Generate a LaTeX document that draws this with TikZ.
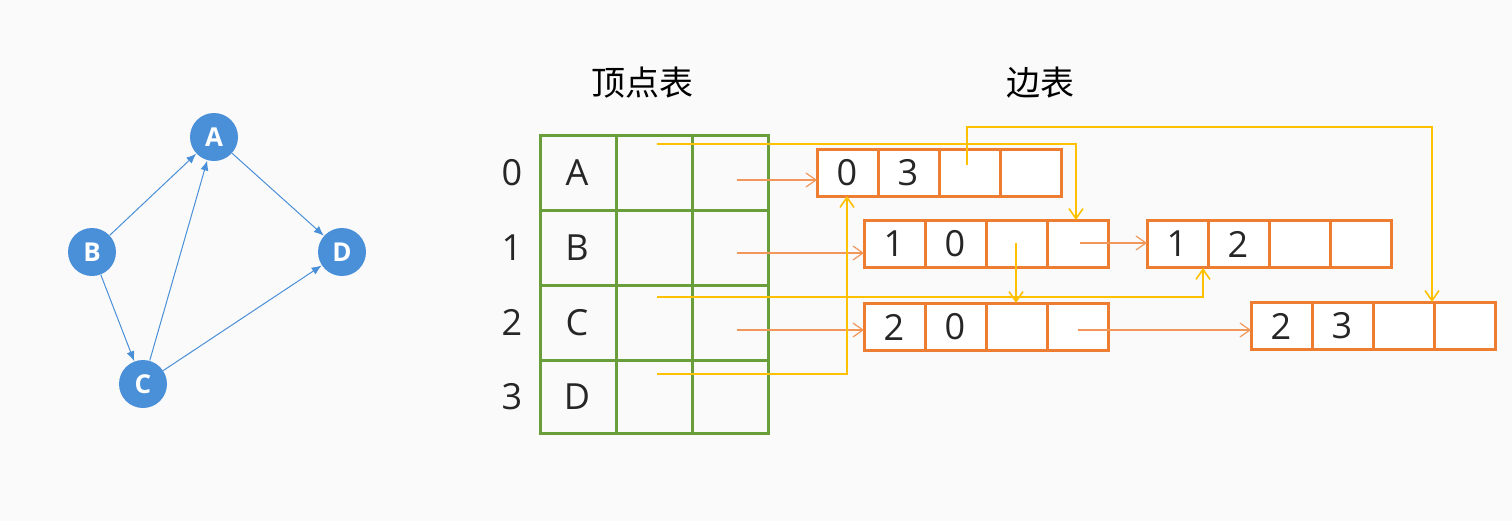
\documentclass[tikz,border=0pt]{standalone}
\usepackage{fontspec}
\setmainfont{Open Sans}
\newfontfamily\cjk{Noto Sans CJK SC}
\usetikzlibrary{arrows.meta}
\definecolor{bl}{HTML}{4A90D9}
\definecolor{gr}{HTML}{6A9E3A}
\definecolor{orr}{HTML}{ED7D31}
\definecolor{yl}{HTML}{FFC000}
\definecolor{bg}{HTML}{FAFAFA}
\begin{document}
\begin{tikzpicture}[x=0.5pt,y=-0.5pt,
  vtx/.style={circle,fill=bl,minimum size=24pt,inner sep=0pt,text=white,font=\bfseries\fontsize{13}{13}\selectfont},
  ge/.style={draw=bl,line width=0.5pt,-{Latex[length=5pt,width=4pt]}},
  cellg/.style={draw=gr,line width=1.5pt},
  cello/.style={draw=orr,line width=1.5pt},
  txt/.style={font=\fontsize{18}{18}\selectfont,text=black!85},
  oa/.style={draw=orr!80,line width=0.6pt,-{Straight Barb[length=5pt,width=7pt]}},
  ya/.style={draw=yl,line width=0.8pt,-{Straight Barb[length=5pt,width=7pt]}}]
\fill[bg] (0,0) rectangle (1512,521);
\useasboundingbox (0,0) rectangle (1512,521);
% graph
\node[vtx] (A) at (214,137) {A};
\node[vtx] (B) at (92,252) {B};
\node[vtx] (C) at (143,384) {C};
\node[vtx] (D) at (342,252) {D};
\draw[ge] (B) -- (A);
\draw[ge] (B) -- (C);
\draw[ge] (C) -- (A);
\draw[ge] (A) -- (D);
\draw[ge] (C) -- (D);
% titles
\node[font=\cjk\fontsize{17}{17}\selectfont] (t1) at (642,83) {顶点表};
\node[font=\cjk\fontsize{17}{17}\selectfont] (t2) at (1040,83) {边表};
% vertex table
\foreach \i/\l/\ya/\yb in {0/A/135/210,1/B/210/285,2/C/285/360,3/D/360/433}{
  \draw[cellg] (540,\ya) rectangle (616,\yb);
  \draw[cellg] (616,\ya) rectangle (692,\yb);
  \draw[cellg] (692,\ya) rectangle (768,\yb);
  \node[txt] (idx\i) at (512,{(\ya+\yb)/2}) {\i};
  \node[txt] (v\i) at (577,{(\ya+\yb)/2}) {\l};
}
% edge boxes
\foreach \n/\x/\y/\a/\b in {e0/817/149/0/3,e1/864/220/1/0,e2/1147/220/1/2,e3/864/303/2/0,e4/1251/302/2/3}{
  \foreach \k in {0,1,2,3}{
    \draw[cello,fill=white] ({\x+61*\k},\y) rectangle ({\x+61*(\k+1)},{\y+47});
  }
  \node[txt] (\n a) at ({\x+30},{\y+24}) {\a};
  \node[txt] (\n b) at ({\x+91},{\y+24}) {\b};
  \coordinate (\n w) at (\x,{\y+24});
  \coordinate (\n t) at (\x,\y);
}
% orange pointers
\coordinate (p0) at (737,180); \coordinate (q0) at (817,180);
\coordinate (p1) at (737,253); \coordinate (q1) at (864,253);
\coordinate (p2) at (737,330); \coordinate (q2) at (864,330);
\coordinate (p3) at (1080,243); \coordinate (q3) at (1147,243);
\coordinate (p4) at (1078,330); \coordinate (q4) at (1251,330);
\foreach \k in {0,...,4}{\draw[oa] (p\k) -- (q\k);}
% yellow pointers
\coordinate (y0) at (657,144); \coordinate (y0e) at (1076,220);
\draw[ya] (y0) -| (y0e);
\coordinate (y1) at (657,297); \coordinate (y1e) at (1203,268);
\draw[ya] (y1) -| (y1e);
\coordinate (y2) at (657,374); \coordinate (y2e) at (847,196);
\draw[ya] (y2) -| (y2e);
\coordinate (y3) at (967,165); \coordinate (y3m) at (967,127); \coordinate (y3e) at (1432,302);
\draw[ya] (y3) -- (y3m) -| (y3e);
\coordinate (y4) at (1016,243); \coordinate (y4e) at (1016,303);
\draw[ya] (y4) -- (y4e);
\end{tikzpicture}
\end{document}
